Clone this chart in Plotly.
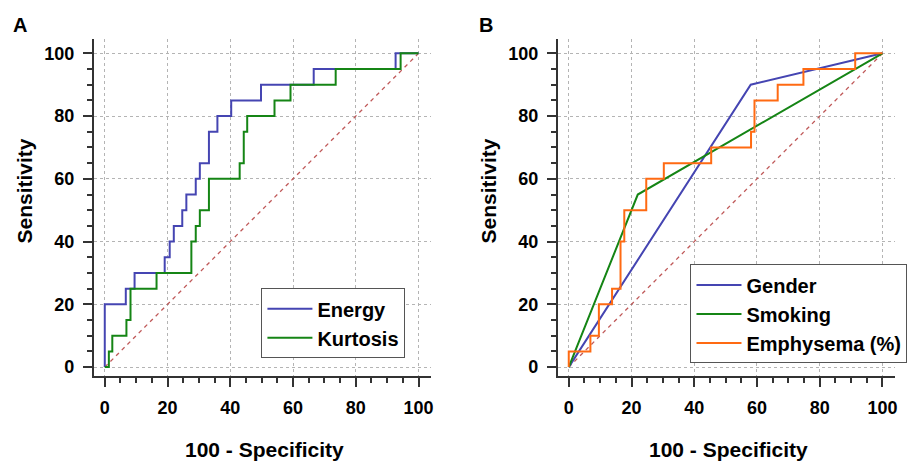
import plotly.graph_objects as go

# body margin is removed in the page (see post_script), so the figure fills the window
W, H = 913, 462


def px(x):
    return x / W


def py(y):
    return 1 - y / H


# ---- data ----
energy_x = [0, 0, 6.7, 9.5, 19.1, 20.7, 22.0, 24.7, 26.0, 29.0, 30.3, 33.2, 35.9, 40.3, 49.8, 66.6, 92.7, 100]
energy_y = [0, 20, 25, 30, 35, 40, 45, 50, 55, 60, 65, 75, 80, 85, 90, 95, 100, 100]

kurt_x = [0, 1.3, 2.4, 6.9, 8.2, 16.5, 27.6, 29.0, 30.3, 33.2, 43.0, 44.3, 45.4, 54.1, 59.2, 73.6, 94.3, 100]
kurt_y = [0, 5, 10, 15, 25, 30, 40, 45, 50, 60, 65, 75, 80, 85, 90, 95, 100, 100]

gender_x = [0, 58, 100]
gender_y = [0, 90, 100]

smoking_x = [0, 22, 100]
smoking_y = [0, 55, 100]

emph_x = [0, 0, 6.9, 9.6, 13.8, 16.5, 17.7, 24.7, 30.3, 45.4, 58.1, 59.2, 66.6, 74.8, 91.3, 100]
emph_y = [0, 5, 10, 20, 25, 40, 50, 60, 65, 70, 75, 85, 90, 95, 100, 100]

diag_x = [0, 100]
diag_y = [0, 100]

tick_vals = [0, 20, 40, 60, 80, 100]

# ---- styles ----
FONT = "Liberation Sans, Arial, sans-serif"
BLUE = "#4545b2"
GREEN = "#158515"
ORANGE = "#ff6a12"
DIAG = "#c05a5a"

fig = go.Figure()

# Panel A
fig.add_trace(go.Scatter(x=diag_x, y=diag_y, mode="lines", showlegend=False,
                         line=dict(color=DIAG, width=1.3, dash="4px,4px"), xaxis="x", yaxis="y"))
fig.add_trace(go.Scatter(x=energy_x, y=energy_y, mode="lines", name="Energy", line_shape="hv",
                         line=dict(color=BLUE, width=2), xaxis="x", yaxis="y", legend="legend"))
fig.add_trace(go.Scatter(x=kurt_x, y=kurt_y, mode="lines", name="Kurtosis", line_shape="hv",
                         line=dict(color=GREEN, width=2), xaxis="x", yaxis="y", legend="legend"))

# Panel B
fig.add_trace(go.Scatter(x=diag_x, y=diag_y, mode="lines", showlegend=False,
                         line=dict(color=DIAG, width=1.3, dash="4px,4px"), xaxis="x2", yaxis="y2"))
fig.add_trace(go.Scatter(x=gender_x, y=gender_y, mode="lines", name="Gender",
                         line=dict(color=BLUE, width=2), xaxis="x2", yaxis="y2", legend="legend2"))
fig.add_trace(go.Scatter(x=smoking_x, y=smoking_y, mode="lines", name="Smoking",
                         line=dict(color=GREEN, width=2), xaxis="x2", yaxis="y2", legend="legend2"))
fig.add_trace(go.Scatter(x=emph_x, y=emph_y, mode="lines", name="Emphysema (%)", line_shape="hv",
                         line=dict(color=ORANGE, width=2), xaxis="x2", yaxis="y2", legend="legend2"))


def ax(domain, rng, anchor):
    return dict(
        domain=domain, range=rng, anchor=anchor,
        tickmode="array", tickvals=tick_vals,
        ticks="outside", ticklen=9, tickwidth=2, tickcolor="#333333",
        ticklabelstandoff=5,
        tickfont=dict(family=FONT, size=18, color="black", weight="bold"),
        showline=True, linecolor="#333333", linewidth=2,
        showgrid=True, gridcolor="#b4b4b4", gridwidth=1, griddash="3px,3px",
        zeroline=False,
        minor=dict(ticks="outside", ticklen=5, tickwidth=2, tickcolor="#333333",
                   dtick=5, tick0=0, showgrid=False),
        fixedrange=True,
    )


ydom = [py(377), py(39)]
legend_font = dict(family=FONT, size=20, color="black", weight="bold")
fig.update_layout(
    width=W, height=H,
    margin=dict(l=0, r=0, t=0, b=0),
    paper_bgcolor="white", plot_bgcolor="white",
    hovermode=False,
    xaxis=ax([px(94), px(432)], [-3.5, 104], "y"),
    yaxis=ax(ydom, [-2.9, 104.6], "x"),
    xaxis2=ax([px(559), px(897)], [-3.5, 104], "y2"),
    yaxis2=ax(ydom, [-2.9, 104.6], "x2"),
    legend=dict(x=px(262), y=py(289), xanchor="left", yanchor="top",
                bgcolor="white", bordercolor="#555555", borderwidth=1,
                font=legend_font, tracegroupgap=0, itemwidth=45),
    legend2=dict(x=px(692), y=py(265), xanchor="left", yanchor="top",
                 bgcolor="white", bordercolor="#555555", borderwidth=1,
                 font=legend_font, tracegroupgap=0, itemwidth=45),
)

annots = []
title_font = dict(family=FONT, size=21, color="black", weight="bold")
for label, lx in [("A", 20), ("B", 487)]:
    annots.append(dict(text=label, x=px(lx), y=py(25), xref="paper", yref="paper",
                       xanchor="center", yanchor="middle", showarrow=False,
                       font=dict(family=FONT, size=20, color="black", weight="bold")))
for cx in [265, 730]:
    annots.append(dict(text="100 - Specificity", x=px(cx), y=py(450), xref="paper", yref="paper",
                       xanchor="center", yanchor="middle", showarrow=False, font=title_font))
for cx in [25, 490]:
    annots.append(dict(text="Sensitivity", x=px(cx), y=py(191), xref="paper", yref="paper",
                       xanchor="center", yanchor="middle", showarrow=False, textangle=-90,
                       font=title_font))
fig.update_layout(annotations=annots)

fig.write_html(
    "out.html",
    config={"displayModeBar": False, "staticPlot": True},
    post_script="document.body.style.margin='0';document.body.style.overflow='hidden';",
)
